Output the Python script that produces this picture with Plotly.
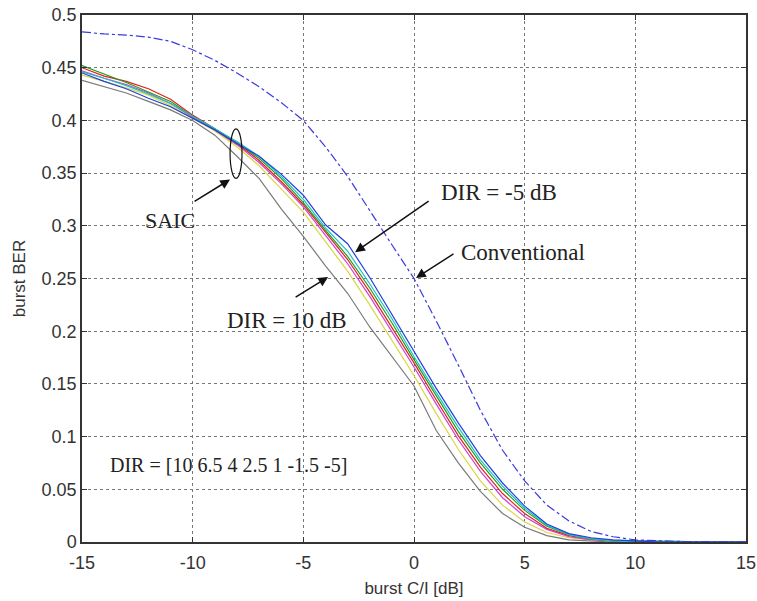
import plotly.graph_objects as go

# C/I grid [dB]
ci = [-15, -14, -13, -12, -11, -10, -9, -8, -7, -6, -5, -4, -3, -2, -1, 0,
      1, 2, 3, 4, 5, 6, 7, 8, 9, 10, 11, 12, 13, 14, 15]

# SAIC curves, one per DIR value
dir_labels = ["10", "6.5", "4", "2.5", "1", "-1.5", "-5"]
ber_dir_10 = [0.438, 0.432, 0.426, 0.418, 0.410, 0.400, 0.386, 0.366, 0.345, 0.316, 0.290,
              0.262, 0.236, 0.204, 0.176, 0.148, 0.106, 0.075, 0.048, 0.027, 0.014, 0.006,
              0.002, 0.001, 0.0, 0.0, 0.0, 0.0, 0.0, 0.0, 0.0]
ber_dir_6_5 = [0.443, 0.437, 0.431, 0.424, 0.414, 0.402, 0.390, 0.375, 0.357, 0.335, 0.313,
               0.285, 0.257, 0.225, 0.192, 0.158, 0.122, 0.088, 0.058, 0.035, 0.019, 0.009,
               0.004, 0.002, 0.001, 0.0, 0.0, 0.0, 0.0, 0.0, 0.0]
ber_dir_4 = [0.447, 0.440, 0.434, 0.426, 0.416, 0.403, 0.391, 0.377, 0.360, 0.340, 0.318,
             0.291, 0.264, 0.233, 0.200, 0.166, 0.131, 0.097, 0.067, 0.042, 0.024, 0.012,
             0.005, 0.002, 0.001, 0.0, 0.0, 0.0, 0.0, 0.0, 0.0]
ber_dir_2_5 = [0.450, 0.442, 0.437, 0.430, 0.420, 0.405, 0.392, 0.378, 0.362, 0.342, 0.320,
               0.294, 0.268, 0.237, 0.204, 0.170, 0.135, 0.101, 0.071, 0.046, 0.027, 0.013,
               0.006, 0.003, 0.001, 0.001, 0.0005, 0.0, 0.0, 0.0, 0.0]
ber_dir_1 = [0.452, 0.444, 0.436, 0.427, 0.418, 0.404, 0.392, 0.379, 0.364, 0.345, 0.322,
             0.296, 0.271, 0.241, 0.208, 0.173, 0.139, 0.105, 0.075, 0.050, 0.030, 0.015,
             0.007, 0.003, 0.001, 0.001, 0.0005, 0.0005, 0.0, 0.0, 0.0]
ber_dir_m1_5 = [0.446, 0.440, 0.433, 0.425, 0.416, 0.404, 0.392, 0.380, 0.366, 0.347, 0.325,
                0.298, 0.276, 0.245, 0.212, 0.176, 0.142, 0.109, 0.078, 0.053, 0.032, 0.016,
                0.007, 0.003, 0.001, 0.0, 0.0, 0.0, 0.0, 0.0, 0.0]
ber_dir_m5 = [0.445, 0.437, 0.430, 0.421, 0.413, 0.402, 0.391, 0.378, 0.366, 0.349, 0.329,
              0.301, 0.283, 0.251, 0.216, 0.180, 0.146, 0.113, 0.082, 0.056, 0.034, 0.017,
              0.008, 0.004, 0.002, 0.001, 0.0, 0.0, 0.0, 0.0, 0.0]

# Conventional receiver
ber_conventional = [0.484, 0.482, 0.481, 0.479, 0.475, 0.467, 0.457, 0.445, 0.432, 0.417, 0.400,
                    0.375, 0.347, 0.314, 0.282, 0.250, 0.210, 0.168, 0.125, 0.087, 0.058, 0.035,
                    0.020, 0.010, 0.005, 0.002, 0.001, 0.0005, 0.0003, 0.0002, 0.0001]

x_ticks = [-15, -10, -5, 0, 5, 10, 15]
x_tick_text = ["-15", "-10", "-5", "0", "5", "10", "15"]
y_ticks = [0, 0.05, 0.1, 0.15, 0.2, 0.25, 0.3, 0.35, 0.4, 0.45, 0.5]
y_tick_text = ["0", "0.05", "0.1", "0.15", "0.2", "0.25", "0.3", "0.35", "0.4", "0.45", "0.5"]

saic_series = [ber_dir_10, ber_dir_6_5, ber_dir_4, ber_dir_2_5, ber_dir_1, ber_dir_m1_5, ber_dir_m5]
saic_colors = ["#7a7a7a", "#d8d840", "#d040d0", "#e02020", "#20a020", "#20c0c0", "#2040e0"]

fig = go.Figure()
for lab, ys, col in zip(dir_labels, saic_series, saic_colors):
    fig.add_trace(go.Scatter(x=ci, y=ys, mode="lines", name="SAIC DIR=" + lab,
                             line=dict(color=col, width=1.2)))
fig.add_trace(go.Scatter(x=ci, y=ber_conventional, mode="lines", name="Conventional",
                         line=dict(color="#3a3ae0", width=1.2, dash="dashdot")))

serif_family = "Liberation Serif, Times New Roman, serif"
def serif(sz):
    return dict(family=serif_family, size=sz, color="#222222")

arrow_common = dict(showarrow=True, arrowhead=2, arrowsize=1.3, arrowwidth=1.5,
                    arrowcolor="#111111", text="", xref="x", yref="y")

annotations = [
    dict(x=-11.02, y=0.3055, text="SAIC", showarrow=False, font=serif(22)),
    dict(x=3.84, y=0.332, text="DIR = -5 dB", showarrow=False, font=serif(23)),
    dict(x=4.93, y=0.275, text="Conventional", showarrow=False, font=serif(23)),
    dict(x=-5.74, y=0.2106, text="DIR = 10 dB", showarrow=False, font=serif(23)),
    dict(x=-13.83, y=0.073, text="DIR = [10 6.5 4 2.5 1 -1.5 -5]", showarrow=False,
         xanchor="left", font=serif(20)),
    dict(x=-8.31, y=0.344, ax=-37, ay=23, **arrow_common),
    dict(x=-2.66, y=0.275, ax=75, ay=-52, **arrow_common),
    dict(x=0.09, y=0.2505, ax=39, ay=-25, **arrow_common),
    dict(x=-3.88, y=0.2514, ax=-34, ay=21, **arrow_common),
]

axis_font = dict(family="Liberation Sans, Arial, sans-serif", size=18, color="#333333")
title_font = dict(family="Liberation Sans, Arial, sans-serif", size=17, color="#333333")

fig.update_layout(
    width=757, height=601,
    margin=dict(l=82, r=11, t=15, b=59),
    paper_bgcolor="white", plot_bgcolor="white",
    showlegend=False,
    annotations=annotations,
    shapes=[dict(type="circle", xref="x", yref="y", x0=-8.31, x1=-7.77, y0=0.345, y1=0.392,
                 line=dict(color="#111111", width=1.2))],
    xaxis=dict(range=[-15, 15], tickvals=x_ticks, ticktext=x_tick_text,
               showgrid=True, gridcolor="#777777", griddash="dot", gridwidth=1,
               showline=True, linecolor="#333333", linewidth=1.5, mirror="ticks",
               ticks="inside", ticklen=5, tickcolor="#333333", zeroline=False,
               tickfont=axis_font, ticklabelstandoff=4, automargin=False,
               title=dict(text="burst C/I [dB]", font=title_font, standoff=10)),
    yaxis=dict(range=[0, 0.5], tickvals=y_ticks, ticktext=y_tick_text,
               showgrid=True, gridcolor="#777777", griddash="dot", gridwidth=1,
               showline=True, linecolor="#333333", linewidth=1.5, mirror="ticks",
               ticks="inside", ticklen=5, tickcolor="#333333", zeroline=False,
               tickfont=axis_font, automargin=False,
               title=dict(text="burst BER", font=title_font, standoff=12)),
)

fig.write_html("out.html")
